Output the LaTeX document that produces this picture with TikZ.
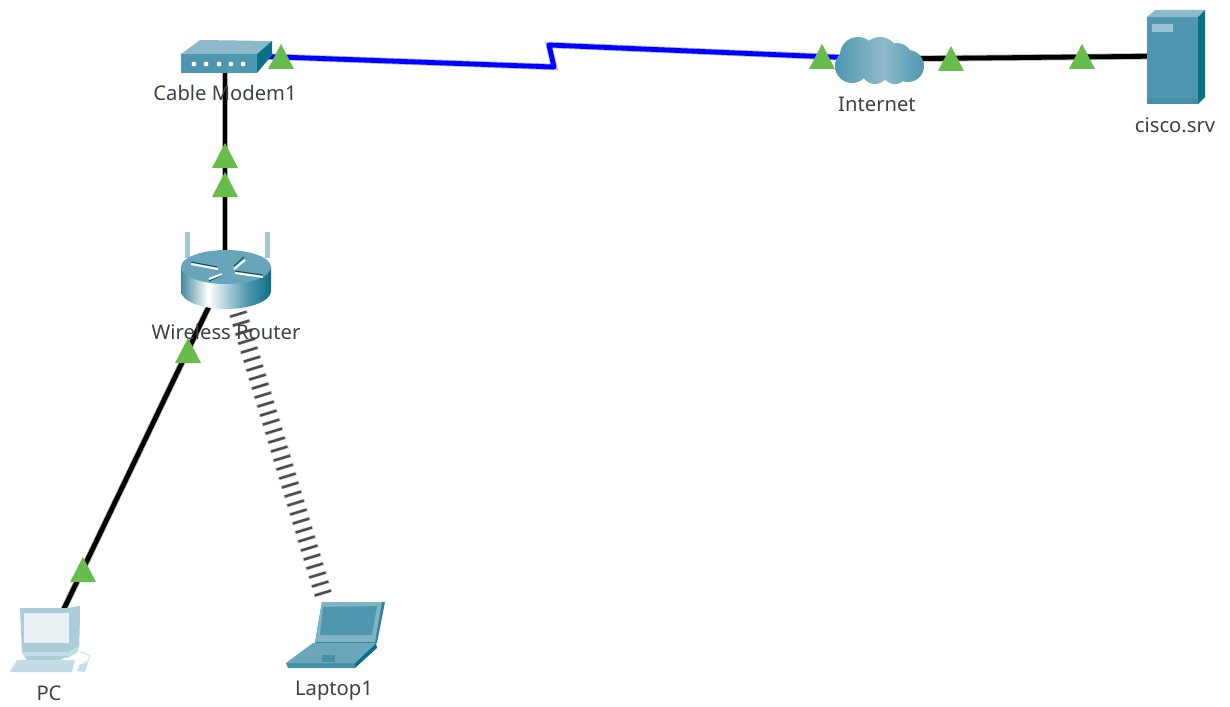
\documentclass[tikz,border=0pt]{standalone}
\usepackage{fontspec}
\setmainfont{Noto Sans}
\definecolor{devtop}{HTML}{8DB9CA}
\definecolor{devfront}{HTML}{4F97AF}
\definecolor{devside}{HTML}{0A7088}
\definecolor{pclight}{HTML}{A9CDD9}
\definecolor{pcpale}{HTML}{C3DDE6}
\definecolor{pcscreen}{HTML}{E8F0F4}
\definecolor{okgreen}{HTML}{68BC4C}
\definecolor{labelgrey}{HTML}{3C4048}
\pgfdeclarehorizontalshading{routerbody}{100bp}{color(0bp)=(devfront!90!black); color(25bp)=(devfront!90!black); color(40bp)=(white); color(62bp)=(devfront); color(75bp)=(devside); color(100bp)=(devside)}
\pgfdeclarehorizontalshading{cloudbody}{100bp}{color(0bp)=(devfront); color(25bp)=(devfront); color(52bp)=(devtop); color(75bp)=(devfront); color(100bp)=(devfront)}
\tikzset{
  devbox/.style={inner sep=0pt,minimum width=#1},
  devlabel/.style={inner sep=0pt,text=labelgrey,font=\fontsize{20.2}{24}\selectfont},
  cablewire/.style={draw=black,line width=4.8pt,line join=round,preaction={draw=black!30,line width=6.4pt}},
  coaxwire/.style={draw=blue,line width=4.8pt,line join=round,preaction={draw=blue!30,line width=6.4pt}},
  wifiwire/.style={draw=black!70,line width=17pt,dash pattern=on 2.4pt off 7pt,preaction={draw=black!18,line width=19pt,dash pattern=on 3.6pt off 5.8pt,dash phase=0.6pt}},
  linkup/.style={fill=okgreen,draw=none},
}
\newcommand{\linkmark}[2]{\fill[linkup] (#1-13,#2+25) -- (#1,#2) -- (#1+13,#2+25) -- cycle;}
\begin{document}
\begin{tikzpicture}[x=1pt,y=-1pt]
\useasboundingbox (0,0) rectangle (1230,706);
% anchors of the devices
\node[devbox=90pt,minimum height=33pt] (modem) at (225,55) {};
\node[devbox=90pt,minimum height=60pt] (router) at (225,280) {};
\node[devbox=90pt,minimum height=48pt] (cloud) at (878,59) {};
\node[devbox=58pt,minimum height=94pt] (server) at (1176,56) {};
\node[devbox=70pt,minimum height=70pt] (pc) at (49,640) {};
\node[devbox=100pt,minimum height=68pt] (laptop) at (335,634) {};
\coordinate (routerpc) at (221.6,280);
\coordinate (routerwifi) at (238,313);
\coordinate (laptopwifi) at (325,600);
\coordinate (zigbottom) at (554,67);
\coordinate (zigtop) at (549,45);
% connectors
\draw[cablewire] (modem.center) -- (router.center);
\draw[cablewire] (routerpc) -- (pc.center);
\draw[wifiwire] (routerwifi) -- (laptopwifi);
\draw[coaxwire] (modem.center) -- (zigbottom) -- (zigtop) -- (cloud.center);
\draw[cablewire] (cloud.center) -- (server.center);
% cable modem
\fill[devtop] (181,54) -- (200,40) -- (272,41) -- (257,54) -- cycle;
\fill[devside] (257,54) -- (272,41) -- (272,55) -- (257,73) -- cycle;
\fill[devfront] (181,54) rectangle (257,73);
\foreach \dx in {194,206,219,231,243} \fill[white] (\dx,64) circle (2.4pt);
% wireless router
\fill[devtop!80!white] (185,232) rectangle (190,258);
\fill[devtop!80!white] (265,232) rectangle (270,258);
\path[shading=routerbody] (181,267) -- (181,291) arc[x radius=45,y radius=18,start angle=180,end angle=0] -- (271,267) -- cycle;
\fill[devfront!60!devtop] (226,267) ellipse [x radius=45,y radius=17];
\draw[devside!70!black,line width=1pt] (191,262) -- (217,267) (234,266) -- (244,257) (209,281) -- (222,275) (235,271) -- (263,275);
\draw[white,line width=2pt] (191,264) -- (218,269) (234,269) -- (245,260) (209,279) -- (222,274) (235,273) -- (263,277);
% internet cloud
\path[shading=cloudbody] (858,55) circle (18) (880,55) circle (18) (897,58) circle (15) (908,66) circle (16) (852,66) circle (17) (875,70) circle (14) (895,70) circle (14);
% server
\fill[devtop] (1147,17) -- (1155,10) -- (1205,10) -- (1198,17) -- cycle;
\fill[devside] (1198,17) -- (1205,10) -- (1205,97) -- (1198,104) -- cycle;
\fill[devfront] (1147,17) rectangle (1198,104);
\fill[devfront!85!devside] (1147,98) rectangle (1198,104);
\fill[devtop!85!white] (1152,24) rectangle (1173,32);
% pc
\fill[pclight!70!devfront] (69,608) -- (80,606) -- (79,645) -- (69,650) -- cycle;
\fill[pclight] (20,608) -- (69,608) -- (80,606) -- (79,646) -- (69,652) -- (22,652) -- cycle;
\fill[pcscreen] (24,613) -- (69,613) -- (69,643) -- (24,643) -- cycle;
\fill[pcpale] (22,652) -- (70,652) -- (79,646) -- (78,652) -- (68,658) -- (25,658) -- cycle;
\fill[pclight] (26,656) -- (68,656) -- (60,660) -- (26,660) -- cycle;
\fill[pcpale] (10,672) -- (17,660) -- (75,660) -- (72,672) -- cycle;
\fill[pcpale] (77,671) -- (80,664) -- (88,663) -- (85,672) -- cycle;
\draw[pcpale,line width=.8pt] (84,663) .. controls (92,660) and (92,654) .. (80,652);
% laptop
\fill[devside!85!white] (322,602) -- (385,602) -- (377,643) -- (315,643) -- cycle;
\fill[devtop!80!devfront] (322,602) -- (382,602) -- (375,642) -- (315,642) -- cycle;
\fill[devfront] (323,607) -- (377,606) -- (372,635) -- (320,635) -- cycle;
\fill[devside] (376,643) -- (377,648) -- (355,668) -- (355,663) -- cycle;
\fill[devfront!85!devside] (286,663) -- (355,663) -- (355,668) -- (288,668) -- cycle;
\fill[devtop!45!devfront] (286,663) -- (313,643) -- (376,643) -- (355,663) -- cycle;
\fill[devfront!85!devside] (322,655) rectangle (335,662);
% labels
\node[devlabel] (modemlabel) at (225,93) {Cable Modem1};
\node[devlabel] (routerlabel) at (226,332) {Wireless Router};
\node[devlabel] (cloudlabel) at (877,104) {Internet};
\node[devlabel] (serverlabel) at (1175,125) {cisco.srv};
\node[devlabel] (pclabel) at (49,693) {PC};
\node[devlabel] (laptoplabel) at (334,691) {Laptop1};
% link lights
\linkmark{281}{44}
\linkmark{822}{44}
\linkmark{951}{46}
\linkmark{1082}{44}
\linkmark{225}{143}
\linkmark{225}{172}
\linkmark{188}{338}
\linkmark{83}{557}
\end{tikzpicture}
\end{document}
